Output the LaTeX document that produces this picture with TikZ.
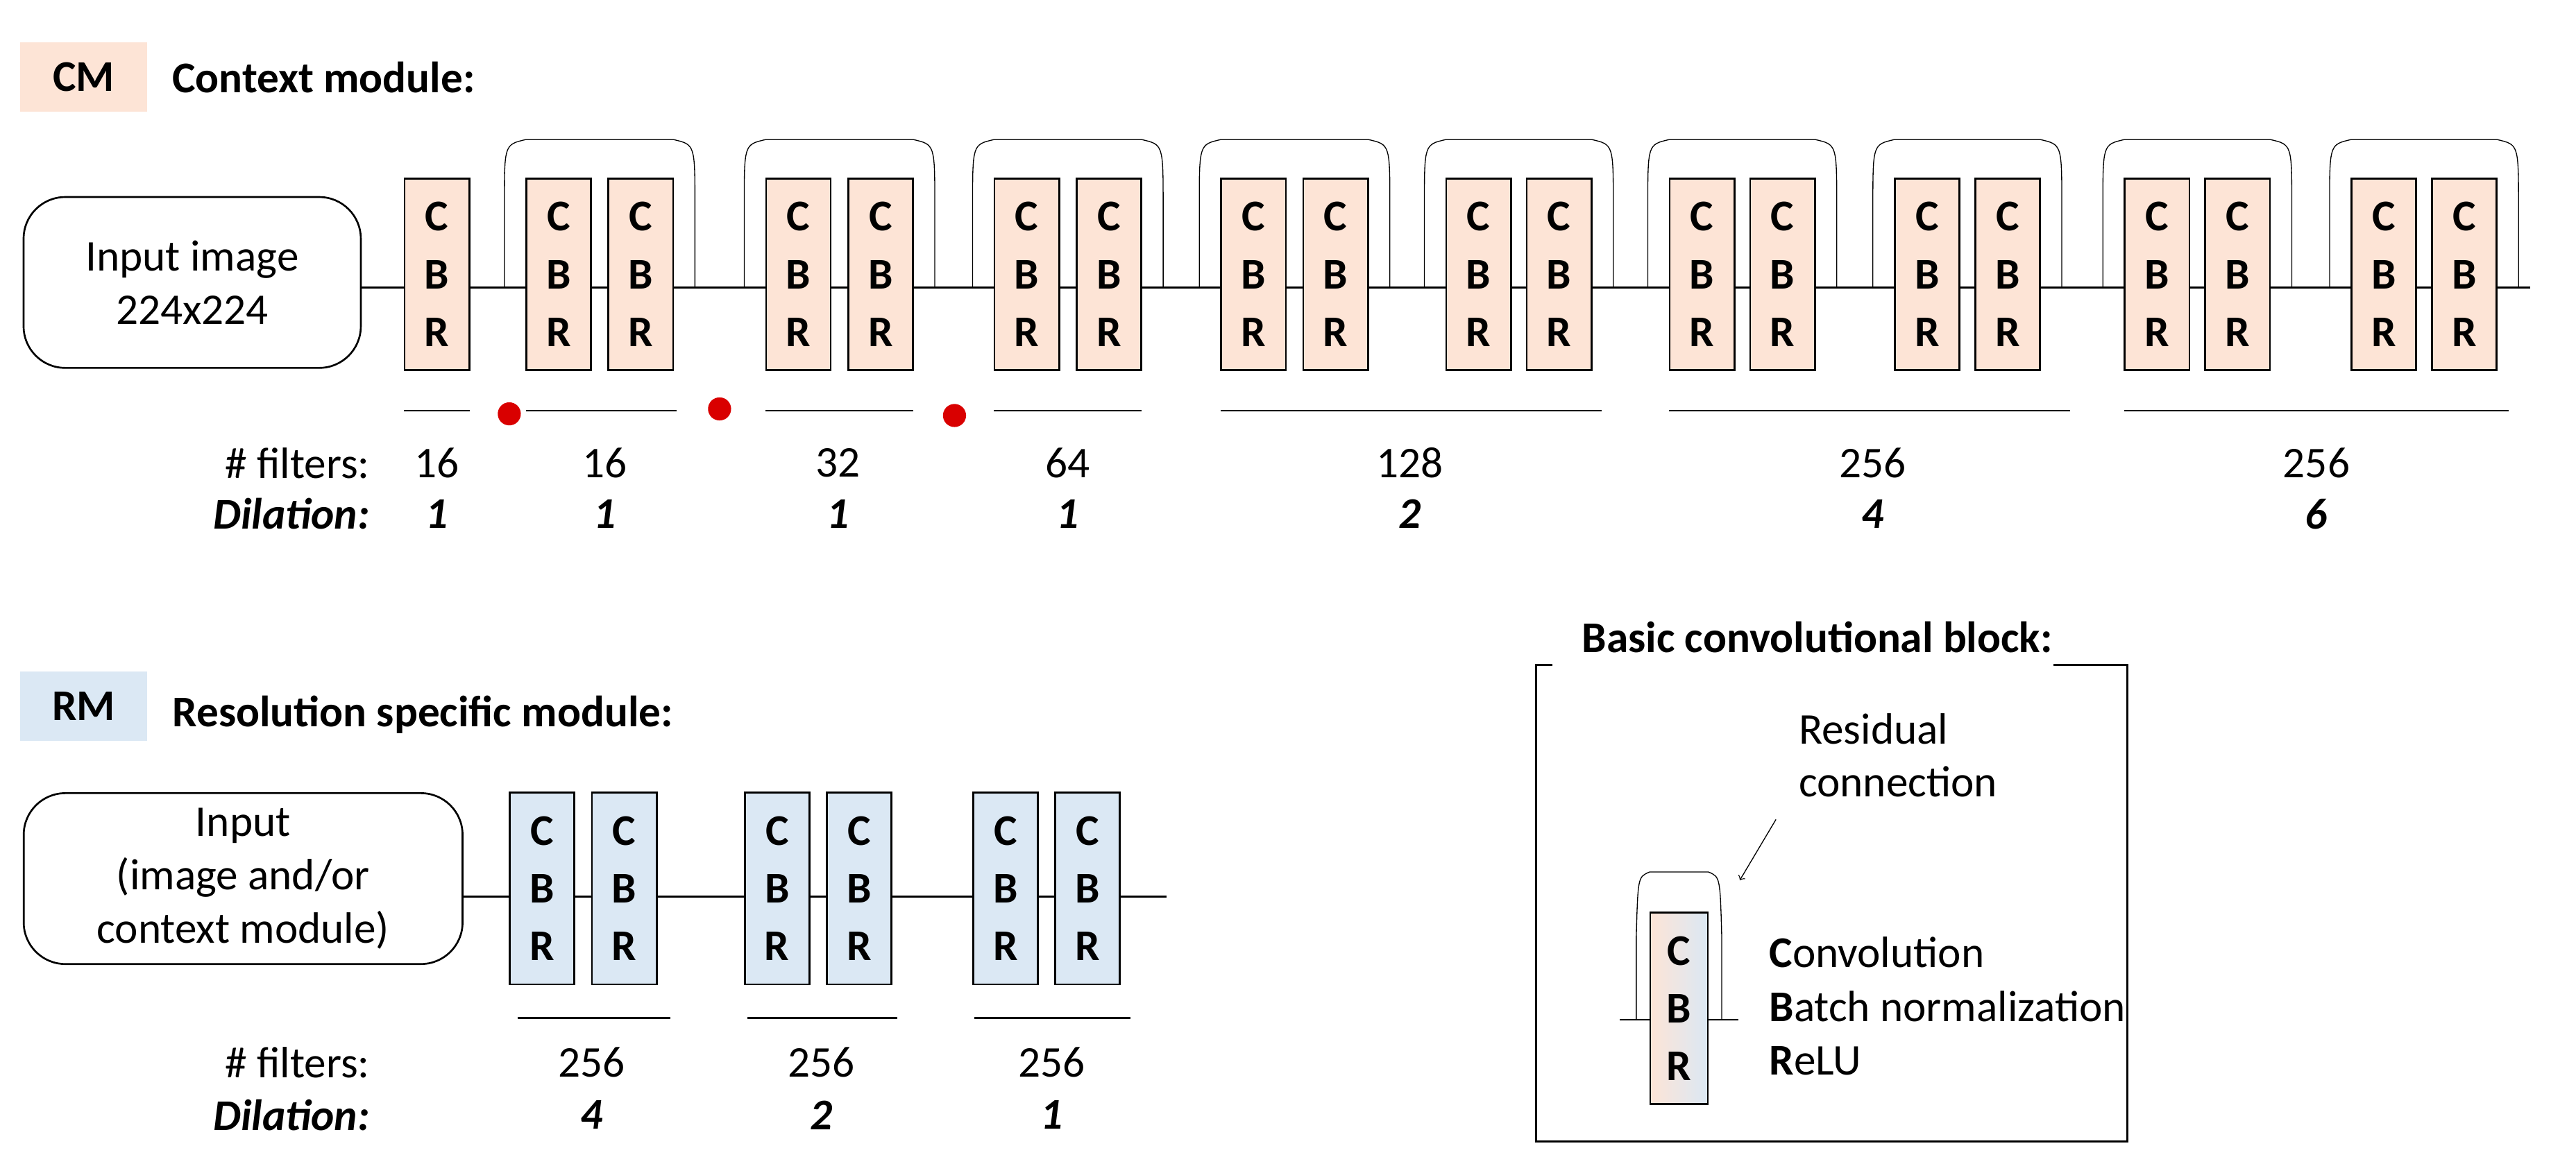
\documentclass[tikz,border=0pt]{standalone}
\usepackage{fontspec}
\setmainfont{Carlito}
\usetikzlibrary{positioning}
\definecolor{cmfill}{HTML}{FDE4D6}
\definecolor{rmfill}{HTML}{DBE8F4}
\begin{document}
\begin{tikzpicture}
    [ x = .25mm, y = -.25mm
    , every node/.style =
      { font = \fontsize{19}{23}\selectfont }
    , cbr/.style =
      { draw, thick, minimum width = 28pt, minimum height = 83pt
      , align = center, font = \fontsize{19}{25}\selectfont\bfseries }
    , cmblock/.style =
      { cbr, fill = cmfill }
    , rmblock/.style =
      { cbr, fill = rmfill }
    , inbox/.style =
      { draw, thick, rounded corners = 18pt, align = center }
    , tag/.style =
      { font = \fontsize{19}{23}\selectfont\bfseries, minimum width = 55pt
      , minimum height = 30pt }
    , title/.style =
      { font = \fontsize{19}{23}\selectfont\bfseries, anchor = west }
    , link/.style =
      { thick }
    , skip/.style =
      { thin }
    , bar/.style =
      { thick }
    , dot/.style =
      { circle, fill = red!85!black, inner sep = 0pt, minimum size = 10pt }
    ]
    \useasboundingbox (0,0) rectangle (1568,703);

    % context module
    \node [tag, fill = cmfill] (cmtag) at (51,47) {CM};
    \node [title] (cmtitle) at (100,47) {Context module:};
    \node [inbox, minimum width = 146pt, minimum height = 74pt] (img) at (117,172)
      {Input image\\224x224};
    \foreach \x [count = \i] in
      {266,340,390,486,536,625,675,763,813,900,949,1036,1085,1173,1222,1313,1362,1451,1500}
      \node [cmblock] (c\i) at (\x,167) {C\\B\\R};
    \coordinate (cend) at (1540,175);
    \draw [link] (img.east |- 0,175) -- (c1.west |- 0,175);
    \foreach \i [evaluate = \i as \j using int(\i+1)] in {1,...,18}
      \draw [link] (c\i.east |- 0,175) -- (c\j.west |- 0,175);
    \draw [link] (c19.east |- 0,175) -- (cend);

    % residual arches
    \foreach \a/\b in {340/390,486/536,625/675,763/813,900/949,1036/1085,1173/1222,1313/1362,1451/1500}
      \draw [skip] (\a-33,175) -- (\a-33,125) .. controls (\a-33,88) .. (\a-20,85)
        -- (\b+20,85) .. controls (\b+33,88) .. (\b+33,125) -- (\b+33,175);

    % group bars
    \foreach \l/\r in {246/286,320/412,466/556,605/695,743/975,1016/1260,1293/1527}
      \draw [bar] (\l,250) -- (\r,250);
    \foreach \x/\y [count = \i] in {310/252,438/249,581/253}
      \node [dot] (d\i) at (\x,\y) {};

    \node [anchor = east] (cmfilt) at (230,282) {\# filters:};
    \node [anchor = east, font = \fontsize{19}{23}\selectfont\bfseries\itshape] (cmdil) at (230,313) {Dilation:};
    \foreach \x/\f/\d [count = \i] in {266/16/1,368/16/1,510/32/1,650/64/1,858/128/2,1140/256/4,1410/256/6}
    {
      \node (cf\i) at (\x,282) {\f};
      \node [font = \fontsize{19}{23}\selectfont\bfseries\itshape] (cd\i) at (\x,313) {\d};
    }

    % resolution specific module
    \node [tag, fill = rmfill] (rmtag) at (51,430) {RM};
    \node [title] (rmtitle) at (100,435) {Resolution specific module:};
    \node [inbox, minimum width = 190pt, minimum height = 74pt] (inp) at (148,535)
      {Input\\(image and/or\\context module)};
    \foreach \x [count = \i] in {330,380,473,523,612,662}
      \node [rmblock] (r\i) at (\x,541) {C\\B\\R};
    \coordinate (rend) at (710,546);
    \draw [link] (inp.east |- 0,546) -- (r1.west |- 0,546);
    \foreach \i [evaluate = \i as \j using int(\i+1)] in {1,...,5}
      \draw [link] (r\i.east |- 0,546) -- (r\j.west |- 0,546);
    \draw [link] (r6.east |- 0,546) -- (rend);
    \foreach \l/\r in {315/408,455/546,593/688}
      \draw [bar] (\l,620) -- (\r,620);
    \node [anchor = east] (rmfilt) at (230,647) {\# filters:};
    \node [anchor = east, font = \fontsize{19}{23}\selectfont\bfseries\itshape] (rmdil) at (230,679) {Dilation:};
    \foreach \x/\d [count = \i] in {360/4,500/2,640/1}
    {
      \node (rf\i) at (\x,647) {256};
      \node [font = \fontsize{19}{23}\selectfont\bfseries\itshape] (rd\i) at (\x,679) {\d};
    }

    % basic convolutional block
    \draw [thick] (945,405) -- (935,405) -- (935,695) -- (1295,695) -- (1295,405) -- (1250,405);
    \node [title] (bbtitle) at (958,388) {Basic convolutional block:};
    \draw [skip] (996,621) -- (996,570) .. controls (997,534) .. (1004,531)
      -- (1040,531) .. controls (1047,534) .. (1048,570) -- (1048,621);
    \coordinate (bl) at (986,621);
    \coordinate (br) at (1058,621);
    \node [cbr, minimum width = 25pt, left color = cmfill, right color = rmfill] (bb) at (1022,614) {C\\B\\R};
    \draw [link] (bl) -- (bb.west |- bl);
    \draw [link] (bb.east |- br) -- (br);
    \node [anchor = west, align = left] (resid) at (1090,460) {Residual\\connection};
    \coordinate (tip) at (1059,536);
    \draw [->] (1081,499) -- (tip);
    \node [anchor = west] (conv) at (1072,580) {\textbf{C}onvolution};
    \node [anchor = west] (bn) at (1072,613) {\textbf{B}atch normalization};
    \node [anchor = west] (relu) at (1072,646) {\textbf{R}eLU};
\end{tikzpicture}
\end{document}
